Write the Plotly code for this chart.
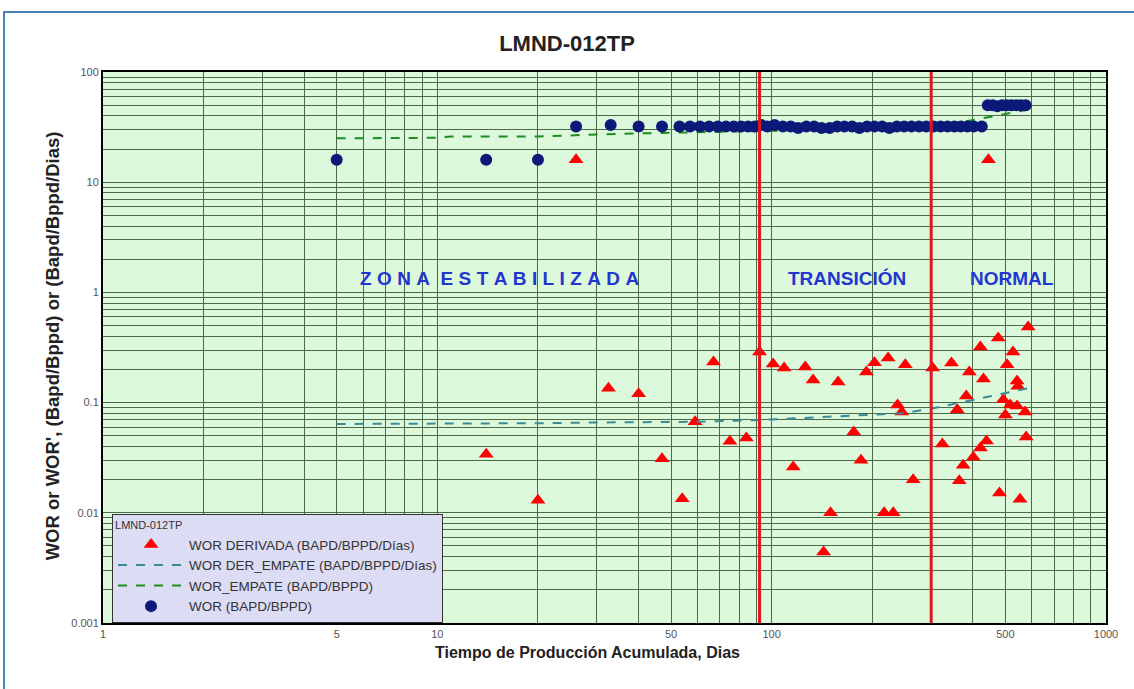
import numpy as np
import plotly.graph_objects as go

# WOR (BAPD/BPPD)
wor_dias = [5, 14, 20, 26, 33, 40, 47, 53,
            57, 61, 65, 69, 73, 77, 81, 85, 89, 93, 97,
            102, 108, 114, 120, 127, 134, 141, 149, 157, 165, 174, 183, 193, 203, 214,
            225, 237, 249, 262, 276, 290, 305, 320, 336, 352, 368, 385, 402, 425,
            443, 458, 473, 489, 505, 522, 539, 556, 575]
wor_val = [16, 16, 16, 32, 33, 32, 32, 32,
           32, 32, 32, 32, 32, 32, 32, 32, 32, 33, 32,
           33, 32, 32, 31, 32, 32, 31, 31, 32, 32, 32, 31, 32, 32, 32,
           31, 32, 32, 32, 32, 32, 32, 32, 32, 32, 32, 32, 32, 32,
           50, 50, 49, 50, 50, 50, 50, 50, 50]

# WOR derivada (BAPD/BPPD/Días)
der_dias = [14, 20, 26, 32.5, 40, 47, 54, 59, 67, 75, 84, 92, 101, 109, 116, 126, 133,
            143, 150, 158, 176, 185, 192, 203, 217, 223, 231, 238, 245, 251, 265, 303,
            324, 345, 359, 364, 374, 382, 390, 401, 421, 421, 430, 439, 445, 476, 480,
            493, 500, 506, 517, 527, 542, 542, 545, 553, 573, 577, 585]
der_val = [0.034, 0.013, 16, 0.135, 0.12, 0.031, 0.0134, 0.067, 0.233, 0.0447, 0.0477,
           0.288, 0.224, 0.206, 0.026, 0.21, 0.16, 0.0044, 0.010, 0.154, 0.054, 0.030,
           0.19, 0.23, 0.010, 0.254, 0.010, 0.095, 0.082, 0.22, 0.0199, 0.206,
           0.042, 0.229, 0.086, 0.0195, 0.027, 0.115, 0.19, 0.032, 0.32, 0.0387, 0.164,
           0.0448, 16, 0.385, 0.0151, 0.106, 0.077, 0.22, 0.095, 0.288, 0.157, 0.093,
           0.141, 0.0133, 0.082, 0.0487, 0.485]

# Ajuste WOR_EMPATE (BAPD/BPPD)
emp_dias = [5, 10, 11, 20, 35, 50, 65, 90, 150, 250, 300, 350, 400, 450, 500, 550, 600]
emp_val = [25, 25.3, 26, 26, 27.5, 28, 28.5, 29, 30, 31, 31.5, 34, 36.5, 39, 41.5, 44, 46]

# Ajuste WOR DER_EMPATE (BAPD/BPPD/Días)
demp_dias = [5, 10, 14, 20, 30, 45, 60, 92, 120, 172, 245, 300, 350, 400, 450, 500, 550, 593]
demp_val = [0.064, 0.064, 0.065, 0.065, 0.066, 0.066, 0.067, 0.0695, 0.072, 0.076, 0.080,
            0.088, 0.097, 0.106, 0.114, 0.122, 0.129, 0.136]

# Límites entre zonas (días)
limites = [92, 300]

# Etiquetas de zona
zona_texto = ["ZONA ESTABILIZADA", "TRANSICIÓN", "NORMAL"]
zona_espacio = ["\u2009\u200a", "", ""]
zona_x = [15.3, 168, 524]
zona_y = [1.35, 1.35, 1.35]

# Ejes
x_ticks = [1, 5, 10, 50, 100, 500, 1000]
y_ticks = [0.001, 0.01, 0.1, 1, 10, 100]

narrow = "Liberation Sans Narrow, Arial Narrow, Liberation Sans, Arial, sans-serif"
sans = "Liberation Sans, Arial, sans-serif"
grid_color = "#4a6a4a"


def espaciado(texto, sep):
    """Separa las letras de cada palabra con el espacio indicado."""
    if not sep:
        return texto
    return "\u00a0\u00a0".join(sep.join(palabra) for palabra in texto.split(" "))


fig = go.Figure()

fig.add_trace(go.Scatter(
    x=der_dias, y=der_val, mode="markers", name="WOR DERIVADA (BAPD/BPPD/Días)",
    marker=dict(symbol="triangle-up", size=13, color="#ff0000", line=dict(width=0)),
))
fig.add_trace(go.Scatter(
    x=demp_dias, y=demp_val, mode="lines", name="WOR DER_EMPATE (BAPD/BPPD/Días)",
    line=dict(color="#3a8a94", width=2, dash="dash"),
))
fig.add_trace(go.Scatter(
    x=emp_dias, y=emp_val, mode="lines", name="WOR_EMPATE (BAPD/BPPD)",
    line=dict(color="#1e8c1e", width=2, dash="dash"),
))
fig.add_trace(go.Scatter(
    x=wor_dias, y=wor_val, mode="markers", name="WOR (BAPD/BPPD)",
    marker=dict(symbol="circle", size=12, color="#0b1a78", line=dict(width=0)),
))

# Líneas rojas de separación de zonas
for lx in limites:
    fig.add_trace(go.Scatter(
        x=[lx, lx], y=[y_ticks[0], y_ticks[-1]], mode="lines", showlegend=False,
        line=dict(color="#e3141c", width=3), hoverinfo="skip",
    ))

for txt, sep, zx, zy in zip(zona_texto, zona_espacio, zona_x, zona_y):
    fig.add_annotation(
        x=np.log10(zx), y=np.log10(zy), xref="x", yref="y",
        text="<b>" + espaciado(txt, sep) + "</b>", showarrow=False,
        font=dict(family=sans, size=19, color="#2436d0"),
    )

fig.add_annotation(
    x=0.4826, y=-0.0726, xref="paper", yref="paper", showarrow=False,
    text="<b>Tiempo de Producción Acumulada, Dias</b>",
    font=dict(family=narrow, size=16, color="#222222"),
)
fig.add_annotation(
    x=-0.0628, y=0.503, xref="paper", yref="paper", showarrow=False, textangle=-90,
    text="<b>WOR or WOR', (Bapd/Bppd) or (Bapd/Bppd/Dias)</b>",
    font=dict(family=sans, size=18.5, color="#222222"),
)

# Marco azul exterior
fig.add_shape(type="rect", xref="paper", yref="paper",
              x0=-0.0987, x1=1.04, y0=-0.16, y1=1.109,
              line=dict(color="#4f81bd", width=2), fillcolor="rgba(0,0,0,0)", layer="below")

axis_common = dict(
    type="log", showline=True, linecolor="black", linewidth=2, mirror=True,
    showgrid=True, gridcolor=grid_color, gridwidth=1.2, ticks="", zeroline=False,
    tickfont=dict(family=narrow, size=11, color="#555555"),
    minor=dict(dtick="D1", showgrid=True, gridcolor=grid_color, gridwidth=1, ticks=""),
)

fig.update_layout(
    width=1134, height=689,
    margin=dict(l=103, r=28, t=72, b=66),
    paper_bgcolor="white", plot_bgcolor="#dcf9dc",
    title=dict(text="<b>LMND-012TP</b>", x=0.5, xref="container", xanchor="center",
               y=1 - 43 / 689, yanchor="middle",
               font=dict(family=narrow, size=22, color="#222222")),
    xaxis=dict(range=[0, 3], tickmode="array", tickvals=x_ticks,
               ticktext=[str(v) for v in x_ticks], **axis_common),
    yaxis=dict(range=[-3, 2], tickmode="array", tickvals=y_ticks,
               ticktext=[f"{v:g}" for v in y_ticks], **axis_common),
    legend=dict(
        x=0.009, y=0.198, xanchor="left", yanchor="top",
        bgcolor="#dcdcf5", bordercolor="#333333", borderwidth=1,
        font=dict(family=sans, size=13.5, color="#333333"),
        title=dict(text="LMND-012TP", font=dict(family=sans, size=11, color="#333333")),
        itemwidth=66, tracegroupgap=0,
    ),
    showlegend=True,
)

fig.write_html("out.html")
